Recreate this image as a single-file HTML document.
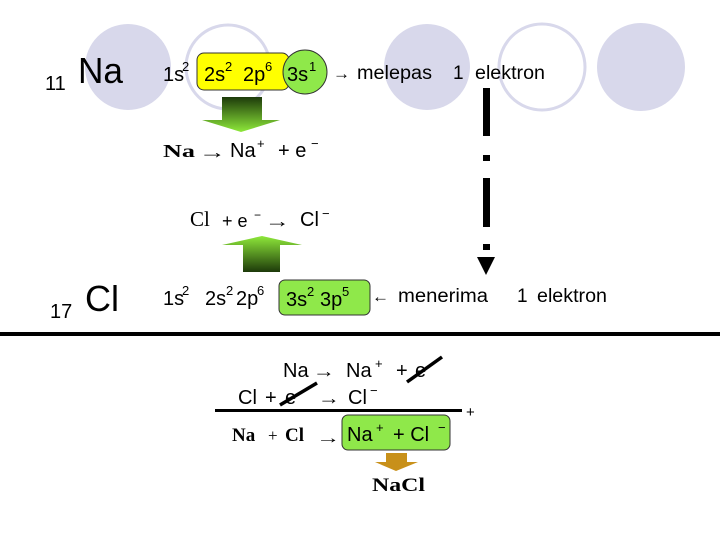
<!DOCTYPE html>
<html><head><meta charset="utf-8"><style>
html,body{margin:0;padding:0;background:#fff;}
svg{display:block;font-family:"Liberation Sans",sans-serif;}
.s{font-family:"Liberation Serif",serif;font-weight:bold;}
</style></head><body>
<svg width="720" height="540" viewBox="0 0 720 540" xmlns="http://www.w3.org/2000/svg">
<defs>
<linearGradient id="gd" x1="0" y1="0" x2="0" y2="1"><stop offset="0" stop-color="#1d3a0a"/><stop offset="1" stop-color="#8ee83a"/></linearGradient>
<linearGradient id="gu" x1="0" y1="0" x2="0" y2="1"><stop offset="0" stop-color="#8ee83a"/><stop offset="1" stop-color="#1d3a0a"/></linearGradient>
</defs>
<circle cx="128" cy="67" r="43" fill="#d8d8eb"/>
<circle cx="228" cy="67" r="42" fill="none" stroke="#d8d8eb" stroke-width="3"/>
<circle cx="427" cy="67" r="43" fill="#d8d8eb"/>
<circle cx="542" cy="67" r="43" fill="none" stroke="#d8d8eb" stroke-width="3"/>
<circle cx="641" cy="67" r="44" fill="#d8d8eb"/>

<!-- Na row -->
<text x="45" y="90" font-size="20">11</text>
<text x="78" y="83" font-size="36" textLength="45" lengthAdjust="spacingAndGlyphs">Na</text>
<text x="163" y="81" font-size="20">1s</text><text x="182" y="71" font-size="13">2</text>
<rect x="197" y="53" width="92" height="37" rx="7" fill="#ffff00" stroke="#333" stroke-width="1"/>
<text x="204" y="81" font-size="20">2s</text><text x="225" y="71" font-size="13">2</text>
<text x="243" y="81" font-size="20">2p</text><text x="265" y="71" font-size="13">6</text>
<circle cx="305" cy="72" r="22" fill="#8fe84a" stroke="#333" stroke-width="1"/>
<text x="287" y="81" font-size="20">3s</text><text x="309" y="71" font-size="13">1</text>
<text x="333" y="79" font-size="17">→</text>
<text x="357" y="79" font-size="19" textLength="75" lengthAdjust="spacingAndGlyphs">melepas</text>
<text x="453" y="79" font-size="19">1</text>
<text x="475" y="79" font-size="19" textLength="70" lengthAdjust="spacingAndGlyphs">elektron</text>

<polygon points="222,97 262,97 262,120 280,120 241,132 202,120 222,120" fill="url(#gd)"/>
<text x="163" y="157" font-size="18" class="s" textLength="32" lengthAdjust="spacingAndGlyphs">Na</text>
<text x="199" y="158" font-size="18" textLength="27" lengthAdjust="spacingAndGlyphs">→</text>
<text x="230" y="157" font-size="20">Na</text><text x="257" y="148" font-size="13">+</text>
<text x="278" y="157" font-size="20">+ e</text><text x="311" y="148" font-size="13">−</text>

<rect x="483" y="88" width="7" height="48" fill="#000"/>
<rect x="483" y="155" width="7" height="6" fill="#000"/>
<rect x="483" y="178" width="7" height="49" fill="#000"/>
<rect x="483" y="244" width="7" height="6" fill="#000"/>
<polygon points="477,257 495,257 486,275" fill="#000"/>

<!-- Cl equation -->
<text x="190" y="226" font-size="21" font-family="Liberation Serif, serif">Cl</text>
<text x="222" y="227" font-size="18">+ e</text><text x="254" y="219" font-size="12">−</text>
<text x="265" y="227" font-size="18" textLength="25" lengthAdjust="spacingAndGlyphs">→</text>
<text x="300" y="226" font-size="20">Cl</text><text x="322" y="218" font-size="13">−</text>
<polygon points="262,236 302,245 280,245 280,272 243,272 243,245 222,245" fill="url(#gu)"/>

<!-- Cl row -->
<text x="50" y="318" font-size="20">17</text>
<text x="85" y="311" font-size="36" textLength="34" lengthAdjust="spacingAndGlyphs">Cl</text>
<text x="163" y="305" font-size="20">1s</text><text x="182" y="295" font-size="13">2</text>
<text x="205" y="305" font-size="20">2s</text><text x="226" y="295" font-size="13">2</text>
<text x="236" y="305" font-size="20">2p</text><text x="257" y="295" font-size="13">6</text>
<rect x="279" y="280" width="91" height="35" rx="6" fill="#8fe84a" stroke="#333" stroke-width="1"/>
<text x="286" y="306" font-size="20">3s</text><text x="307" y="296" font-size="13">2</text>
<text x="320" y="306" font-size="20">3p</text><text x="342" y="296" font-size="13">5</text>
<text x="372" y="302" font-size="17">←</text>
<text x="398" y="302" font-size="19" textLength="90" lengthAdjust="spacingAndGlyphs">menerima</text>
<text x="517" y="302" font-size="19">1</text>
<text x="537" y="302" font-size="19" textLength="70" lengthAdjust="spacingAndGlyphs">elektron</text>

<rect x="0" y="332" width="720" height="4" fill="#000"/>

<!-- bottom -->
<text x="283" y="377" font-size="20">Na</text>
<text x="313" y="377" font-size="18" textLength="22" lengthAdjust="spacingAndGlyphs">→</text>
<text x="346" y="377" font-size="20">Na</text><text x="375" y="368" font-size="13">+</text>
<text x="396" y="377" font-size="20">+</text>
<text x="415" y="377" font-size="20">e</text>
<line x1="407" y1="382" x2="442" y2="357" stroke="#000" stroke-width="3.5"/>
<text x="238" y="404" font-size="20">Cl</text>
<text x="265" y="404" font-size="20">+</text>
<text x="285" y="404" font-size="20">e</text>
<text x="318" y="404" font-size="18" textLength="22" lengthAdjust="spacingAndGlyphs">→</text>
<text x="348" y="404" font-size="20">Cl</text><text x="370" y="395" font-size="13">−</text>
<line x1="280" y1="405" x2="317" y2="383" stroke="#000" stroke-width="3.5"/>
<rect x="215" y="409" width="247" height="3" fill="#000"/>
<text x="466" y="417" font-size="15">+</text>
<text x="232" y="441" font-size="19" class="s">Na</text>
<text x="268" y="441" font-size="17" font-family="Liberation Serif, serif">+</text>
<text x="285" y="441" font-size="19" class="s">Cl</text>
<text x="316" y="443" font-size="16" textLength="24" lengthAdjust="spacingAndGlyphs">→</text>
<rect x="342" y="415" width="108" height="35" rx="6" fill="#8fe84a" stroke="#333" stroke-width="1"/>
<text x="347" y="441" font-size="20">Na</text><text x="376" y="432" font-size="13">+</text>
<text x="393" y="441" font-size="20">+ Cl</text><text x="438" y="432" font-size="13">−</text>
<polygon points="386,453 407,453 407,462 418,462 396,471 375,462 386,462" fill="#c8901a"/>
<text x="372" y="491" font-size="19" class="s" textLength="53" lengthAdjust="spacingAndGlyphs">NaCl</text>
</svg>
</body></html>
